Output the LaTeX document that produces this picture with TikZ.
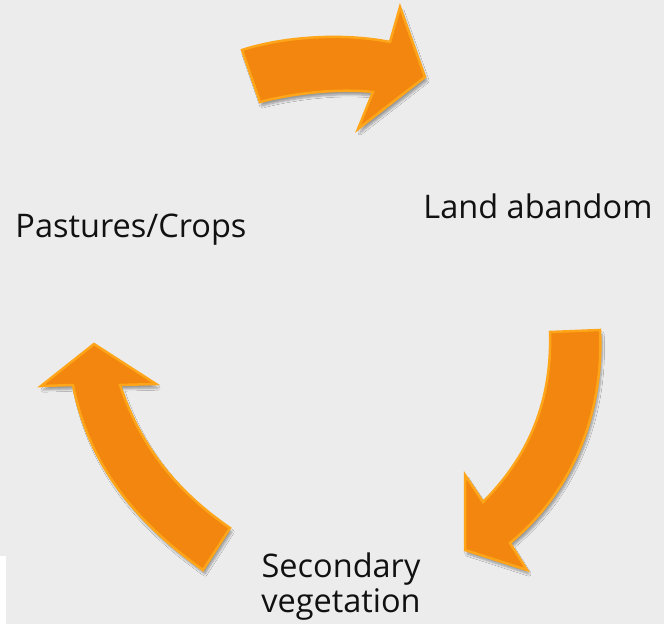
\documentclass[tikz,border=0pt]{standalone}
\usepackage{fontspec}
\setmainfont{Open Sans}
\usetikzlibrary{shadows.blur}
\definecolor{bgc}{RGB}{236,236,236}
\definecolor{orfill}{RGB}{242,134,14}
\definecolor{oredge}{RGB}{255,165,25}
\definecolor{txt}{RGB}{17,17,17}
\tikzset{
  blockarrow/.style={fill=orfill, draw=oredge, line width=2.5pt, line join=miter,
    blur shadow={shadow xshift=2pt, shadow yshift=-4pt, shadow blur steps=6, shadow opacity=35}},
  label/.style={font=\fontsize{32.5}{36}\selectfont, text=txt, inner sep=0pt, anchor=base, align=center}
}
\begin{document}
\begin{tikzpicture}[x=1pt,y=-1pt]
\useasboundingbox (0,0) rectangle (664,624);
\fill[bgc] (0,0) rectangle (664,624);
\fill[white] (0,556) rectangle (6,624);
% top arrow
\path[blockarrow] (242,50) .. controls (285,36) and (345,33) .. (390,42) -- (400,7) -- (425,77) -- (358,129) -- (373,92) .. controls (335,88) and (290,94) .. (260,102) -- cycle;
% right arrow
\path[blockarrow] (550,332) -- (600,330) .. controls (604,415) and (572,492) .. (510,543) -- (527,570) -- (465,550) -- (465,475) -- (483,502) .. controls (530,455) and (552,400) .. (550,332) -- cycle;
% left arrow
\path[blockarrow] (94,344) -- (156,384) -- (120,385) .. controls (140,445) and (175,490) .. (230,528) -- (203,570) .. controls (140,525) and (90,470) .. (73,385) -- (41,386) -- cycle;
\node[label] (past) at (131,237) {Pastures/Crops};
\node[label] (land) at (538,218) {Land abandom};
\node[label] (sec) at (341,577) {Secondary};
\node[label] (veg) at (341,612) {vegetation};
\end{tikzpicture}
\end{document}
